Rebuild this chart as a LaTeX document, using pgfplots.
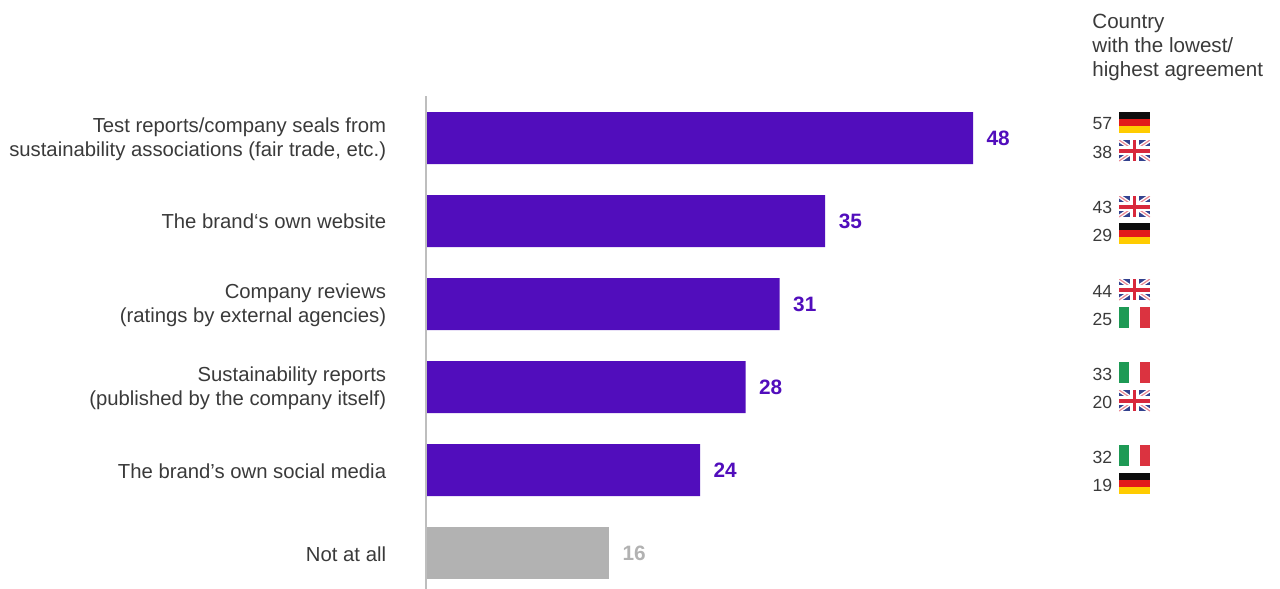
\documentclass[border=0pt]{standalone}
\usepackage{pgfplots}
\pgfplotsset{compat=1.18}
\usepackage{fontspec}
\setmainfont{Liberation Sans}
\definecolor{barpurple}{HTML}{510DBC}
\definecolor{bargray}{HTML}{B2B2B2}
\definecolor{txt}{HTML}{3A3A3A}
\definecolor{ukblue}{HTML}{33428F}
\definecolor{ukred}{HTML}{D8283C}
\definecolor{degold}{HTML}{FFCC00}
\definecolor{dered}{HTML}{E21A1A}
\definecolor{itgreen}{HTML}{1E9A55}
\definecolor{itred}{HTML}{DB3340}
\newcommand{\lab}{\fontsize{10.15}{12.25}\selectfont}
\newcommand{\hdr}{\fontsize{10.3}{12}\selectfont}
\newcommand{\sm}{\fontsize{8.8}{10}\selectfont}
% flags centred at (1134.5,y), 31x21 px
\newcommand{\deflag}[1]{%
  \fill[black!95] (1119,#1-10.5) rectangle (1150,#1-3.5);
  \fill[dered] (1119,#1-3.5) rectangle (1150,#1+3.5);
  \fill[degold] (1119,#1+3.5) rectangle (1150,#1+10.5);}
\newcommand{\itflag}[1]{%
  \fill[itgreen] (1119,#1-10.5) rectangle (1129.3,#1+10.5);
  \fill[white] (1129.3,#1-10.5) rectangle (1139.7,#1+10.5);
  \fill[itred] (1139.7,#1-10.5) rectangle (1150,#1+10.5);}
\newcommand{\ukflag}[1]{%
  \begin{scope}
  \clip (1119,#1-10.5) rectangle (1150,#1+10.5);
  \fill[ukblue] (1119,#1-10.5) rectangle (1150,#1+10.5);
  \draw[white,line width=2pt] (1119,#1-10.5) -- (1150,#1+10.5) (1119,#1+10.5) -- (1150,#1-10.5);
  \draw[ukred!55,line width=.6pt] (1119,#1-10.5) -- (1150,#1+10.5) (1119,#1+10.5) -- (1150,#1-10.5);
  \fill[white] (1130,#1-10.5) rectangle (1139,#1+10.5);
  \fill[white] (1119,#1-4.5) rectangle (1150,#1+4.5);
  \fill[ukred] (1133,#1-10.5) rectangle (1136,#1+10.5);
  \fill[ukred] (1119,#1-2) rectangle (1150,#1+2);
  \end{scope}}
\newcommand{\rowval}[2]{\node[font=\sm,text=txt,anchor=east,inner sep=0pt] at (1112.5,#2) {#1};}
\begin{document}
\begin{tikzpicture}
\path[use as bounding box] (0,0) rectangle (640pt,-294.5pt);
\begin{axis}[
  at={(0,0)},anchor=north west,
  scale only axis,width=640pt,height=294.5pt,
  xmin=-37.5385,xmax=74.989,
  ymin=0,ymax=589,y dir=reverse,
  axis lines=none,clip=false,
  xbar,bar width=26pt,bar shift=0pt,
  nodes near coords,
  /pgf/number format/assume math mode=true,
  every node near coord/.append style={anchor=west,inner xsep=0pt,xshift=6.6pt,font=\fontsize{10.4}{12}\selectfont\bfseries},
  point meta=x,
]
\addplot[fill=barpurple,draw=none,nodes near coords style={text=barpurple}] coordinates {(48,138) (35,221) (31,304) (28,387) (24,470)};
\addplot[fill=bargray,draw=none,nodes near coords style={text=bargray}] coordinates {(16,553)};
\addplot[xbar=false,sharp plot,no marks,nodes near coords=\relax,color=bargray!85,line width=1pt] coordinates {(-0.1,96) (-0.1,589)};
\end{axis}
\begin{scope}[x=0.5pt,y=-0.5pt]
\foreach \y/\t in {139/{Test reports/company seals from\\sustainability associations (fair trade, etc.)},
  221.5/{The brand‘s own website},
  305/{Company reviews\\(ratings by external agencies)},
  388/{Sustainability reports\\(published by the company itself)},
  471/{The brand’s own social media},
  554/{Not at all}}{
  \node[font=\lab,text=txt,anchor=east,align=right,inner sep=0pt] at (386.5,\y) {\t};
}
\node[font=\hdr,text=txt,anchor=north west,align=left,inner sep=0pt] at (1092,13.5) {Country\\with the lowest/\\highest agreement};
\deflag{122.5}\ukflag{150.5}
\ukflag{206.5}\deflag{233.5}
\ukflag{289.5}\itflag{317.5}
\itflag{372.5}\ukflag{400.5}
\itflag{455.5}\deflag{483.5}
\rowval{57}{124}\rowval{38}{152}
\rowval{43}{207}\rowval{29}{235}
\rowval{44}{291}\rowval{25}{319}
\rowval{33}{374}\rowval{20}{402}
\rowval{32}{457}\rowval{19}{485}
\end{scope}
\end{tikzpicture}
\end{document}
